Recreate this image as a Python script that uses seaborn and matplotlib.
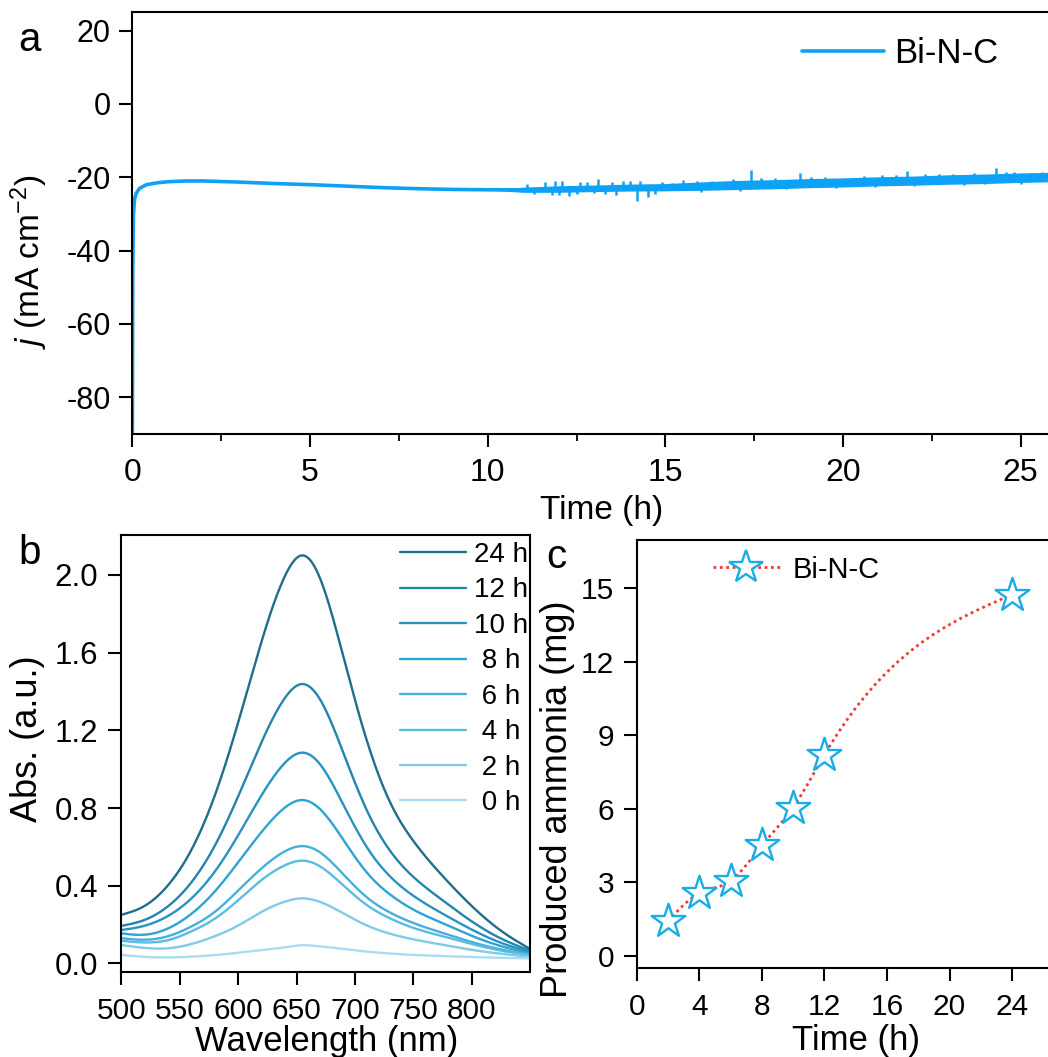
import numpy as np
import pandas as pd
import matplotlib
matplotlib.use("Agg")
import matplotlib.pyplot as plt
from matplotlib.lines import Line2D
from matplotlib.ticker import MultipleLocator
import seaborn as sns

sns.set_theme(style="ticks")
plt.rcParams["font.family"] = ["Liberation Sans", "DejaVu Sans"]
plt.rcParams["mathtext.fontset"] = "custom"
plt.rcParams["mathtext.it"] = "Liberation Sans:italic"
plt.rcParams["mathtext.rm"] = "Liberation Sans"
for k in ["text.color", "axes.labelcolor", "xtick.color", "ytick.color", "axes.edgecolor"]:
    plt.rcParams[k] = "black"

# ---------------- Panel a data (chronoamperometry) ----------------
t_mean = [0, 0.01, 0.03, 0.06, 0.1, 0.2, 0.4, 0.7, 1.0, 1.5, 2.0, 3, 4, 5, 6, 7, 8, 9,
          10, 10.5, 11, 12, 13, 14, 15, 16, 17, 18, 19, 20, 21, 22, 23, 24, 25, 26, 27]
j_mean = [-90, -45, -30, -26, -24.5, -23.0, -22.0, -21.5, -21.2, -21.0, -21.0, -21.3,
          -21.7, -22.0, -22.4, -22.8, -23.1, -23.3, -23.4, -23.4, -23.4, -23.2, -23.0, -22.8,
          -22.7, -22.4, -22.1, -21.9, -21.6, -21.4, -21.1, -20.9, -20.6, -20.4, -20.1, -19.9, -19.7]
j_noise = [0, 0, 0, 0, 0, 0, 0, 0, 0, 0, 0, 0, 0, 0, 0, 0, 0, 0.05,
           0.15, 0.4, 0.7, 0.9, 0.9, 0.95, 1.0, 1.15, 1.25, 1.25, 1.25, 1.25, 1.25, 1.25, 1.3, 1.3, 1.3, 1.3, 1.3]
spike_t = [11.1, 11.3, 11.6, 11.8, 11.9, 12.0, 12.1, 12.3, 12.5, 12.6, 12.8, 13.0, 13.1, 13.3, 13.5,
           13.6, 13.8, 14.0, 14.2, 14.3, 14.5, 14.7, 14.9, 15.2, 15.5, 15.9, 16.0, 16.3, 16.6, 16.9,
           17.1, 17.4, 17.7, 18.1, 18.4, 18.8, 19.1, 19.5, 19.8, 20.3, 20.6, 20.9, 21.1, 21.5, 21.8,
           22.0, 22.3, 22.7, 23.1, 23.4, 23.7, 24.0, 24.3, 24.6, 24.8, 25.0, 25.3, 25.6, 25.9]
spike_j = [-21.7, -24.6, -21.4, -24.8, -21.0, -24.9, -21.1, -25.0, -24.6, -21.3, -21.2, -24.4,
           -20.4, -24.5, -21.3, -24.7, -21.0, -21.1, -26.5, -20.9, -25.3, -24.6, -21.2, -21.5,
           -20.6, -20.9, -24.0, -21.0, -21.2, -20.4, -23.7, -17.9, -20.3, -20.3, -23.3, -18.8,
           -19.9, -20.0, -23.0, -20.2, -19.6, -22.7, -19.3, -19.4, -18.4, -22.4, -19.0, -19.2,
           -19.0, -22.2, -18.7, -21.9, -17.5, -18.6, -18.6, -21.7, -18.9, -18.5, -21.4]

# ---------------- Panel b data (UV-vis spectra) ----------------
wl = [500, 520, 540, 560, 580, 600, 620, 640, 655, 670, 690, 710, 730, 750, 775, 800, 825, 850]
abs_24h = [0.25, 0.296, 0.402, 0.584, 0.863, 1.239, 1.655, 1.993, 2.10, 1.984, 1.58, 1.15, 0.83, 0.63, 0.45, 0.295, 0.168, 0.074]
abs_12h = [0.193, 0.224, 0.294, 0.417, 0.605, 0.859, 1.138, 1.366, 1.438, 1.36, 1.085, 0.79, 0.58, 0.445, 0.325, 0.216, 0.128, 0.065]
abs_10h = [0.172, 0.194, 0.244, 0.334, 0.472, 0.659, 0.865, 1.032, 1.085, 1.026, 0.818, 0.60, 0.448, 0.348, 0.256, 0.174, 0.106, 0.058]
abs_8h = [0.155, 0.148, 0.18, 0.255, 0.37, 0.52, 0.676, 0.802, 0.841, 0.795, 0.637, 0.469, 0.355, 0.277, 0.207, 0.142, 0.089, 0.051]
abs_6h = [0.13, 0.122, 0.14, 0.19, 0.265, 0.375, 0.489, 0.577, 0.604, 0.572, 0.459, 0.341, 0.262, 0.208, 0.157, 0.11, 0.072, 0.045]
abs_4h = [0.117, 0.108, 0.12, 0.165, 0.23, 0.325, 0.429, 0.505, 0.529, 0.50, 0.402, 0.301, 0.232, 0.183, 0.14, 0.10, 0.066, 0.042]
abs_2h = [0.095, 0.08, 0.078, 0.10, 0.14, 0.195, 0.265, 0.318, 0.335, 0.317, 0.258, 0.196, 0.153, 0.124, 0.096, 0.07, 0.05, 0.034]
abs_0h = [0.044, 0.034, 0.031, 0.035, 0.043, 0.055, 0.069, 0.083, 0.094, 0.088, 0.075, 0.061, 0.051, 0.044, 0.038, 0.033, 0.029, 0.026]
spec_labels = ["24 h", "12 h", "10 h", " 8 h", " 6 h", " 4 h", " 2 h", " 0 h"]
spec_colors = ["#1f6e8c", "#2384ad", "#2893c2", "#2ea3d4", "#45b0dc", "#5bbce2", "#7fcbe8", "#a9dcf0"]

# ---------------- Panel c data (produced ammonia) ----------------
c_time = [2, 4, 6, 8, 10, 12, 24]
c_nh3 = [1.4, 2.55, 3.05, 4.5, 6.05, 8.2, 14.75]


def natural_spline(x, y, xs):
    x = np.asarray(x, float)
    y = np.asarray(y, float)
    n = len(x)
    h = np.diff(x)
    A = np.zeros((n, n))
    r = np.zeros(n)
    A[0, 0] = A[-1, -1] = 1
    for i in range(1, n - 1):
        A[i, i - 1] = h[i - 1]
        A[i, i] = 2 * (h[i - 1] + h[i])
        A[i, i + 1] = h[i]
        r[i] = 6 * ((y[i + 1] - y[i]) / h[i] - (y[i] - y[i - 1]) / h[i - 1])
    M = np.linalg.solve(A, r)
    idx = np.clip(np.searchsorted(x, xs) - 1, 0, n - 2)
    x0, x1 = x[idx], x[idx + 1]
    hh = x1 - x0
    a = (x1 - xs) / hh
    b = (xs - x0) / hh
    return a * y[idx] + b * y[idx + 1] + ((a ** 3 - a) * M[idx] + (b ** 3 - b) * M[idx + 1]) * hh ** 2 / 6


W, H = 1048, 1057
fig = plt.figure(figsize=(W / 100, H / 100), dpi=100)


def fx(px):
    return px / W


def fy(py):
    return 1 - py / H


def style_axis(ax, xfs, yfs, xpad, ypad):
    for s in ax.spines.values():
        s.set_linewidth(1.5)
        s.set_color("black")
    ax.tick_params(which="major", direction="out", length=9.5, width=1.5, color="black")
    ax.tick_params(which="minor", direction="out", length=5, width=1.3, color="black")
    ax.tick_params(axis="x", labelsize=xfs, pad=xpad)
    ax.tick_params(axis="y", labelsize=yfs, pad=ypad)


# ---------------- Panel a ----------------
a_left, a_top, a_bot = 132.4, 12.3, 434
a_right = a_left + 27 * 35.53
axa = fig.add_axes([fx(a_left), fy(a_bot), fx(a_right - a_left), (a_bot - a_top) / H])
blue_a = "#0ea2f7"
dfa = pd.DataFrame({"t": t_mean, "j": j_mean})
j_lo = np.array(j_mean) - np.array(j_noise)
j_hi = np.array(j_mean) + np.array(j_noise)
axa.fill_between(t_mean, j_lo, j_hi, color=blue_a, lw=0)
jm_at_spikes = np.interp(spike_t, t_mean, j_mean)
axa.vlines(spike_t, jm_at_spikes, spike_j, color=blue_a, lw=1.8)
sns.lineplot(data=dfa, x="t", y="j", ax=axa, color=blue_a, lw=2.6, label="Bi-N-C", sort=False)
axa.set_xlim(0, 27)
axa.set_ylim(-90, 25)
axa.set_xticks([0, 5, 10, 15, 20, 25])
axa.xaxis.set_minor_locator(MultipleLocator(2.5))
axa.set_yticks([20, 0, -20, -40, -60, -80])
axa.set_yticklabels(["20", "0", "-20", "-40", "-60", "-80"])
axa.set_xlabel("Time (h)", fontsize=24)
axa.set_ylabel(r"$j$ (mA cm$^{-2}$)", fontsize=24)
style_axis(axa, 23, 22, 8, 6)
axa.xaxis.set_label_coords(fx(601.6), fy(495), transform=fig.transFigure)
axa.yaxis.set_label_coords(fx(50), fy(262), transform=fig.transFigure)
axa.legend(loc="center left", bbox_to_anchor=(fx(802), fy(53.3)), bbox_transform=fig.transFigure,
           frameon=False, fontsize=25, handlelength=2.36, handletextpad=0.29, borderpad=0, borderaxespad=0)
fig.text(fx(29), fy(40), "a", fontsize=29, ha="center", va="center")

# ---------------- Panel b ----------------
b_left, b_right, b_top, b_bot = 121.2, 530.3, 535.4, 972
axb = fig.add_axes([fx(b_left), fy(b_bot), fx(b_right - b_left), (b_bot - b_top) / H])
xs = np.linspace(500, 850, 351)
series = [abs_24h, abs_12h, abs_10h, abs_8h, abs_6h, abs_4h, abs_2h, abs_0h]
frames = []
for lab, vals in zip(spec_labels, series):
    frames.append(pd.DataFrame({"wl": xs, "abs": natural_spline(wl, vals, xs), "time": lab}))
dfb = pd.concat(frames, ignore_index=True)
sns.lineplot(data=dfb, x="wl", y="abs", hue="time", hue_order=spec_labels,
             palette=dict(zip(spec_labels, spec_colors)), ax=axb, lw=1.7, sort=False)
axb.set_xlim(500, 850)
axb.set_ylim(-0.044, 2.203)
axb.set_xticks([500, 550, 600, 650, 700, 750, 800])
axb.set_yticks([0.0, 0.4, 0.8, 1.2, 1.6, 2.0])
axb.set_yticklabels(["0.0", "0.4", "0.8", "1.2", "1.6", "2.0"])
axb.set_xlabel("Wavelength (nm)", fontsize=25)
axb.set_ylabel("Abs. (a.u.)", fontsize=26)
style_axis(axb, 21.5, 22.5, 8.5, 7)
axb.xaxis.set_label_coords(fx(327), fy(1025), transform=fig.transFigure)
axb.yaxis.set_label_coords(fx(45), fy(739), transform=fig.transFigure)
leg_b = axb.legend(loc="upper left", bbox_to_anchor=(fx(400), fy(542)), bbox_transform=fig.transFigure,
                   frameon=False, fontsize=20, handlelength=2.36, handletextpad=0.29,
                   labelspacing=0.34, borderpad=0, borderaxespad=0)
for ln in leg_b.get_lines():
    ln.set_linewidth(1.7)
fig.text(fx(30), fy(553), "b", fontsize=29, ha="center", va="center")

# ---------------- Panel c ----------------
c_left, c_top, c_bot = 636.7, 539.5, 967.6
c_right = c_left + 27 * 15.64
axc = fig.add_axes([fx(c_left), fy(c_bot), fx(c_right - c_left), (c_bot - c_top) / H])
red = "#f03a3a"
cyan = "#18ade4"
ts = np.linspace(2, 24, 300)
dfc_line = pd.DataFrame({"t": ts, "v": natural_spline(c_time, c_nh3, ts)})
sns.lineplot(data=dfc_line, x="t", y="v", ax=axc, color=red, lw=2.0, linestyle=(0, (1, 1.3)), sort=False)
dfc = pd.DataFrame({"t": c_time, "v": c_nh3})
sns.scatterplot(data=dfc, x="t", y="v", ax=axc, marker="*", s=650, facecolor="white",
                edgecolor=cyan, linewidth=1.7, zorder=5)
axc.set_xlim(0, 27)
axc.set_ylim(-0.49, 17)
axc.set_xticks([0, 4, 8, 12, 16, 20, 24])
axc.set_yticks([0, 3, 6, 9, 12, 15])
axc.set_xlabel("Time (h)", fontsize=25)
axc.set_ylabel("Produced ammonia (mg)", fontsize=26)
style_axis(axc, 21.5, 21.5, 8.5, 6.5)
axc.xaxis.set_label_coords(fx(856), fy(1024), transform=fig.transFigure)
axc.yaxis.set_label_coords(fx(575), fy(799), transform=fig.transFigure)
proxy = Line2D([], [], color=red, lw=2.0, linestyle=(0, (1, 1.3)), marker="*", markersize=25,
               markerfacecolor="white", markeredgecolor=cyan, markeredgewidth=1.7)
axc.legend([proxy], ["Bi-N-C"], loc="center left", bbox_to_anchor=(fx(712.7), fy(569.7)),
           bbox_transform=fig.transFigure, frameon=False, fontsize=21, handlelength=2.3,
           handletextpad=0.45, borderpad=0, borderaxespad=0, numpoints=1)
fig.text(fx(556), fy(557), "c", fontsize=29, ha="center", va="center")

fig.savefig("out.png", dpi=100)
